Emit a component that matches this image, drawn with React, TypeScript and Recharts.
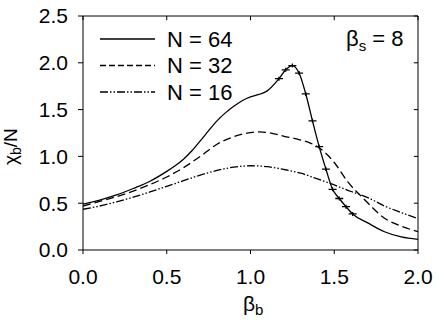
import { ComposedChart, Line, Scatter, XAxis, YAxis, ReferenceLine } from "recharts";

// beta_b sample positions and chi_b/N values
const n64X = [0, 0.1, 0.2, 0.3, 0.4, 0.5, 0.55, 0.6, 0.65, 0.7, 0.75, 0.8, 0.85, 0.9, 0.95, 1.0, 1.05, 1.1, 1.17, 1.21, 1.25, 1.29, 1.33, 1.37, 1.41, 1.45, 1.49, 1.53, 1.57, 1.61, 1.7, 1.8, 1.9, 2.0];
const n64Y = [0.491, 0.534, 0.588, 0.657, 0.735, 0.84, 0.9, 0.97, 1.06, 1.165, 1.275, 1.38, 1.465, 1.535, 1.595, 1.635, 1.662, 1.7, 1.83, 1.925, 1.97, 1.89, 1.667, 1.38, 1.104, 0.865, 0.648, 0.55, 0.463, 0.385, 0.29, 0.195, 0.14, 0.114];

// points that carry error-bar markers on the N = 64 curve
const markerX = [1.17, 1.21, 1.25, 1.29, 1.33, 1.37, 1.41, 1.45, 1.49, 1.53, 1.57, 1.61];
const markerY = [1.83, 1.925, 1.97, 1.89, 1.667, 1.38, 1.104, 0.865, 0.648, 0.55, 0.463, 0.385];

const n32X = [0, 0.1, 0.2, 0.3, 0.4, 0.5, 0.6, 0.7, 0.8, 0.9, 1.0, 1.05, 1.1, 1.2, 1.3, 1.36, 1.42, 1.46, 1.5, 1.58, 1.68, 1.8, 1.9, 2.0];
const n32Y = [0.47, 0.52, 0.57, 0.63, 0.7, 0.78, 0.88, 1.0, 1.13, 1.21, 1.255, 1.262, 1.255, 1.215, 1.175, 1.14, 1.08, 1.015, 0.935, 0.73, 0.54, 0.34, 0.255, 0.196];

const n16X = [0, 0.1, 0.2, 0.3, 0.4, 0.5, 0.6, 0.7, 0.8, 0.9, 1.0, 1.1, 1.2, 1.3, 1.4, 1.5, 1.6, 1.7, 1.8, 1.9, 2.0];
const n16Y = [0.435, 0.47, 0.515, 0.565, 0.62, 0.68, 0.74, 0.8, 0.85, 0.885, 0.9, 0.89, 0.86, 0.82, 0.76, 0.695, 0.625, 0.56, 0.47, 0.4, 0.335];

const xTicks = [0, 0.5, 1.0, 1.5, 2.0];
const yTicks = [0, 0.5, 1.0, 1.5, 2.0, 2.5];

const legendItems = [
  { label: "N = 64", dash: undefined },
  { label: "N = 32", dash: "6 3" },
  { label: "N = 16", dash: "8 2 1.5 2 1.5 2" },
];

const zip = (xs: number[], ys: number[]) => xs.map((x, i) => ({ x, y: ys[i] }));

const n64 = zip(n64X, n64Y);
const n32 = zip(n32X, n32Y);
const n16 = zip(n16X, n16Y);
const markers = zip(markerX, markerY);

const FONT = "'Liberation Sans', Arial, Helvetica, sans-serif";
const fmt = (v: number) => v.toFixed(1);

function Cross(props: any) {
  const { cx, cy } = props;
  if (cx == null || cy == null) return null;
  return (
    <path
      d={`M${cx - 4},${cy}H${cx + 4}M${cx},${cy - 2}V${cy + 2}`}
      stroke="#000"
      strokeWidth={1.3}
      fill="none"
    />
  );
}

export default function App() {
  return (
    <div style={{ position: "absolute", left: 0, top: 0, width: 443, height: 326, background: "#fff", fontFamily: FONT }}>
      <ComposedChart
        width={443}
        height={326}
        margin={{ top: 16, right: 25, bottom: 0, left: 0 }}
        style={{ fontFamily: FONT }}
      >
        <XAxis
          xAxisId="b"
          type="number"
          dataKey="x"
          domain={[0, 2]}
          ticks={xTicks}
          tickFormatter={fmt}
          height={76}
          tickSize={4}
          tickMargin={15}
          stroke="#000"
          tick={{ fontSize: 21, fill: "#000" }}
          allowDataOverflow
        />
        <YAxis
          yAxisId="l"
          type="number"
          domain={[0, 2.5]}
          ticks={yTicks}
          tickFormatter={fmt}
          width={83}
          tickSize={5}
          tickMargin={10}
          stroke="#000"
          tick={{ fontSize: 21, fill: "#000" }}
        />
        {/* frame: top and right edges with short inward ticks */}
        <ReferenceLine xAxisId="b" yAxisId="l" y={2.5} stroke="#000" strokeWidth={1} ifOverflow="visible" />
        <ReferenceLine xAxisId="b" yAxisId="l" x={2} stroke="#000" strokeWidth={1} ifOverflow="visible" />
        {xTicks.map((t) => (
          <ReferenceLine
            key={"tx" + t}
            xAxisId="b"
            yAxisId="l"
            segment={[{ x: t, y: 2.5 }, { x: t, y: 2.455 }]}
            stroke="#000"
            ifOverflow="visible"
          />
        ))}
        {yTicks.map((t) => (
          <ReferenceLine
            key={"ty" + t}
            xAxisId="b"
            yAxisId="l"
            segment={[{ x: 1.975, y: t }, { x: 2.0, y: t }]}
            stroke="#000"
            ifOverflow="visible"
          />
        ))}
        <Line
          xAxisId="b"
          yAxisId="l"
          data={n64}
          dataKey="y"
          type="monotone"
          stroke="#000"
          strokeWidth={1.3}
          dot={false}
          isAnimationActive={false}
        />
        <Line
          xAxisId="b"
          yAxisId="l"
          data={n32}
          dataKey="y"
          type="monotone"
          stroke="#000"
          strokeWidth={1.3}
          strokeDasharray="8 4"
          dot={false}
          isAnimationActive={false}
        />
        <Line
          xAxisId="b"
          yAxisId="l"
          data={n16}
          dataKey="y"
          type="monotone"
          stroke="#000"
          strokeWidth={1.3}
          strokeDasharray="8 2 1.5 2 1.5 2"
          dot={false}
          isAnimationActive={false}
        />
        <Scatter
          xAxisId="b"
          yAxisId="l"
          data={markers}
          dataKey="y"
          shape={Cross}
          isAnimationActive={false}
        />
      </ComposedChart>

      {/* legend, annotation and axis titles */}
      <svg width={443} height={326} style={{ position: "absolute", left: 0, top: 0, pointerEvents: "none" }} fontFamily={FONT}>
        {legendItems.map((it, i) => (
          <g key={it.label}>
            <line x1={100} x2={155} y1={39 + i * 26.5} y2={39 + i * 26.5} stroke="#000" strokeWidth={1.3} strokeDasharray={it.dash} />
            <text x={167} y={39 + i * 26.5} dy="0.355em" fontSize={22} fill="#000">
              {it.label}
            </text>
          </g>
        ))}
        <text x={346} y={46} fontSize={22} fill="#000">
          β<tspan fontSize={15} dy={5}>s</tspan>
          <tspan dy={-5}> = 8</tspan>
        </text>
        <text x={243} y={311} fontSize={21} fill="#000">
          β<tspan fontSize={15} dy={4}>b</tspan>
        </text>
        <text x={17} y={165} transform="rotate(-90 17 165)" fontSize={19} fill="#000">
          χ<tspan fontSize={14} dy={4}>b</tspan>
          <tspan dy={-4}>/N</tspan>
        </text>
      </svg>
    </div>
  );
}
